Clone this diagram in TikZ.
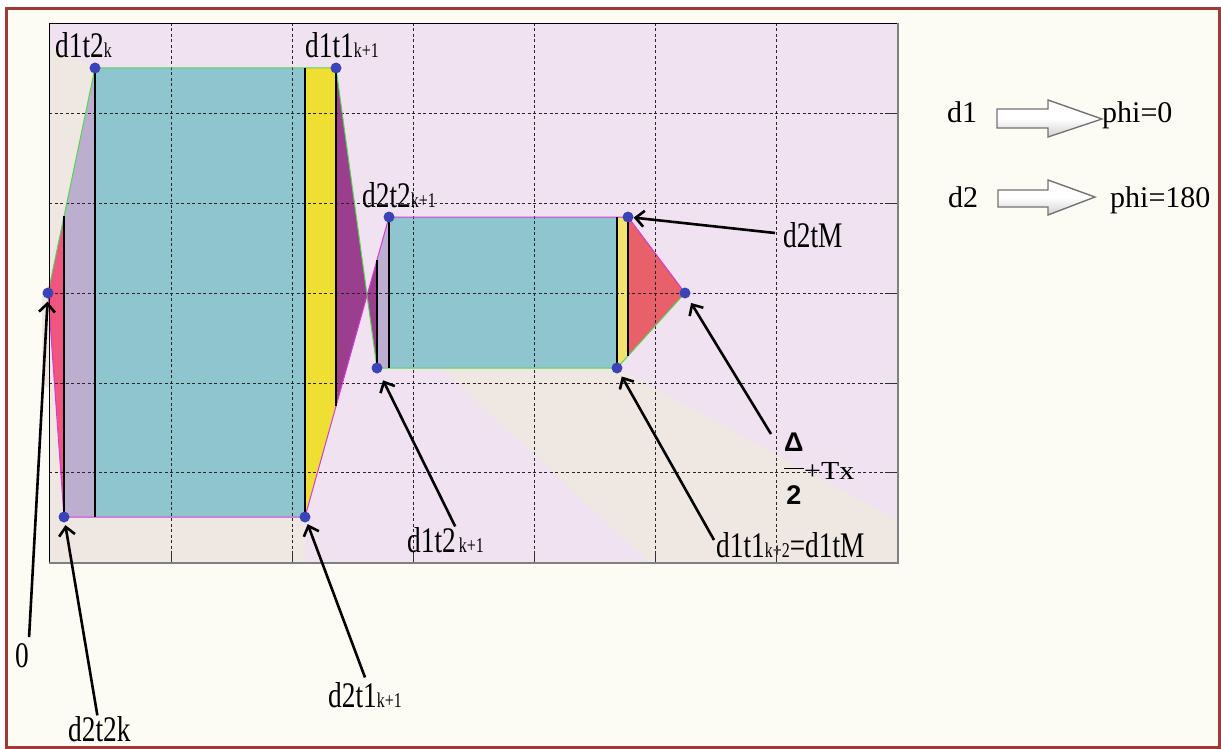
\documentclass[tikz,border=0pt]{standalone}
\usepackage{fontspec}
\setmainfont{Liberation Serif}
\newfontfamily\lblfont[FakeStretch=0.76]{Liberation Serif}
\newfontfamily\widefont[FakeStretch=1.15]{Liberation Serif}
\newfontfamily\sansb{Liberation Sans}
\usetikzlibrary{arrows.meta}
\definecolor{paper}{HTML}{FCFBF4}
\definecolor{plotbg}{HTML}{F0E2F1}
\definecolor{beige}{HTML}{EFE8E2}
\definecolor{tealc}{HTML}{8FC5CF}
\definecolor{lav}{HTML}{BCAECF}
\definecolor{pinkred}{HTML}{EF557F}
\definecolor{yel}{HTML}{EEDF32}
\definecolor{yeltwo}{HTML}{F2E26E}
\definecolor{purp}{HTML}{9A3E8D}
\definecolor{redtri}{HTML}{E8606A}
\definecolor{dotblue}{HTML}{3B44B6}
\definecolor{donegreen}{HTML}{55D455}
\definecolor{dtwomag}{HTML}{D23DD2}
\definecolor{framered}{HTML}{9E3B37}
\newcommand\lowsub[1]{{\fontsize{21}{21}\selectfont #1}}
\tikzset{
  lbl/.style={inner sep=0pt, anchor=base west, font=\lblfont\fontsize{36}{36}\selectfont},
  leg/.style={inner sep=0pt, anchor=base west, font=\fontsize{30}{30}\selectfont},
  dot/.style={circle, fill=dotblue, inner sep=0pt, minimum size=11pt},
  pointer/.style={line width=2.6pt, -{Straight Barb[length=8.5pt,width=16pt,line width=2.6pt]}},
  doneline/.style={line width=1pt, donegreen},
  dtwoline/.style={line width=1pt, dtwomag},
  sepline/.style={line width=2.8pt, black},
  gridline/.style={dash pattern=on 3pt off 2.5pt, line width=0.7pt, black!85},
  legarrow/.style={draw=black!55, line width=1.4pt, top color=white, bottom color=black!18, middle color=white}
}
\begin{document}
\begin{tikzpicture}[x=1pt,y=-1pt]
\useasboundingbox (0,0) rectangle (1221,749);
\fill[white] (0,0) rectangle (1221,749);
\fill[paper] (6,8) rectangle (1220,748);
% plot background
\fill[plotbg] (49,23) rectangle (898,563);
\fill[beige] (49,45) -- (95,68) -- (305,517) -- (305,563) -- (49,563) -- cycle;
\fill[beige] (441,368) -- (617,368) -- (898,520) -- (898,563) -- (650,563) -- cycle;
\fill[beige] (42,290) rectangle (49,387);
% key points
\coordinate (P0) at (48,293);
\coordinate (A) at (95,68);
\coordinate (B) at (336,68);
\coordinate (C) at (377,368);
\coordinate (D) at (617,368);
\coordinate (E) at (685,293);
\coordinate (F) at (64,517);
\coordinate (G) at (305,517);
\coordinate (H) at (389,217);
\coordinate (I) at (628,217);
\coordinate (F1) at (64,216.4);
\coordinate (B1) at (336,406.3);
\coordinate (X) at (367.1,295.6);
\coordinate (C1) at (377,259.9);
\coordinate (D1) at (628,356);
% fills
\fill[pinkred] (P0) -- (F1) -- (F) -- cycle;
\fill[lav] (F1) -- (A) -- (95,517) -- (F) -- cycle;
\fill[tealc] (A) rectangle (G);
\fill[yel] (305,68) -- (B) -- (B1) -- (G) -- cycle;
\fill[purp] (B) -- (B1) -- (X) -- cycle;
\fill[purp] (X) -- (C1) -- (C) -- cycle;
\fill[lav] (C1) -- (H) -- (389,368) -- (C) -- cycle;
\fill[tealc] (H) rectangle (D);
\fill[yeltwo] (617,217) -- (I) -- (D1) -- (D) -- cycle;
\fill[redtri] (I) -- (E) -- (D1) -- cycle;
% grid
\foreach \x in {171,292,413,534,655,776} \draw[gridline] (\x,23) -- (\x,563);
\foreach \y in {113,203,293,383,472} \draw[gridline] (49,\y) -- (898,\y);
\foreach \y in {113,203,293,383,472} \draw[line width=0.8pt, black!80] (887,\y) -- (898,\y);
\foreach \x in {171,292,413,534,655,776} \draw[line width=0.8pt, black!80] (\x,552) -- (\x,563);
% waveforms
\draw[doneline] (P0) -- (A) -- (B) -- (C) -- (D) -- (E);
\draw[dtwoline] (P0) -- (F) -- (G) -- (H) -- (I) -- (E);
% separators
\draw[sepline] (F1) -- (F);
\draw[sepline] (A) -- (95,517);
\draw[sepline] (305,68) -- (G);
\draw[sepline] (B) -- (B1);
\draw[sepline] (C1) -- (C);
\draw[sepline] (H) -- (389,368);
\draw[sepline] (617,217) -- (D);
\draw[sepline] (I) -- (D1);
% plot frame
\draw[black, line width=0.8pt] (49,563) -- (49,23) -- (898,23);
\draw[black!50, line width=1.6pt] (49,563) -- (898,563) -- (898,23);
% dots
\node[dot] (p0) at (P0) {};
\node[dot] (pa) at (A) {};
\node[dot] (pb) at (B) {};
\node[dot] (pc) at (C) {};
\node[dot] (pd) at (D) {};
\node[dot] (pe) at (E) {};
\node[dot] (pf) at (F) {};
\node[dot] (pg) at (G) {};
\node[dot] (ph) at (H) {};
\node[dot] (pi) at (I) {};
% labels
\node[lbl] (l1) at (55,58) {d1t2\lowsub{k}};
\node[lbl] (l2) at (305,58) {d1t1\lowsub{k+1}};
\node[lbl] (l3) at (362,207) {d2t2\lowsub{k+1}};
\node[lbl] (l4) at (783,247) {d2tM};
\node[lbl] (l5) at (407,552) {d1t2\hspace{3pt}\lowsub{k+1}};
\node[lbl] (l6) at (716,557) {d1t1\lowsub{k+2}=d1tM};
\node[lbl] (l7) at (328,707) {d2t1\lowsub{k+1}};
\node[lbl] (l8) at (68,741.5) {d2t2k};
\node[lbl] (l9) at (15,667) {0};
\node[inner sep=0pt, anchor=north west, font=\sansb\bfseries\fontsize{27}{27}\selectfont] (frac) at (784,432)
  {\setlength\arrayrulewidth{1.3pt}\begin{tabular}{@{}c@{}}Δ\rule[-17pt]{0pt}{1pt}\\\hline\rule{0pt}{35pt}2\end{tabular}};
\node[inner sep=0pt, anchor=base west, font=\widefont\fontsize{26}{26}\selectfont] (tx) at (804,479) {+Tx};
% pointers
\draw[pointer, shorten >=3pt] ([shift={(0pt,5.7pt)}]l9.north east) -- (p0);
\draw[pointer, shorten >=2.5pt] ([shift={(-2pt,1pt)}]l8.north) -- (pf);
\draw[pointer, shorten >=2pt] ([shift={(0pt,4.4pt)}]l7.north) -- (pg);
\draw[pointer, shorten >=8pt] ([shift={(9.7pt,0.4pt)}]l5.north) -- (pc);
\draw[pointer, shorten >=4pt] ([shift={(-2pt,4.7pt)}]l6.west) -- (pd);
\draw[pointer, shorten >=6pt] ([shift={(-13pt,-2pt)}]frac.north west) -- (pe);
\draw[pointer, shorten >=0pt] ([shift={(-8pt,1.7pt)}]l4.west) -- (pi);
% legend
\node[leg] (dl1) at (947,123) {d1};
\node[leg] (phz) at (1102,123) {phi=0};
\node[leg] (dl2) at (948,207) {d2};
\node[leg] (phs) at (1110,207) {phi=180};
\draw[legarrow] (997,109) -- (1048,109) -- (1048,100) -- (1102,119) -- (1048,137) -- (1048,128) -- (997,128) -- cycle;
\draw[legarrow] (998,190) -- (1048,190) -- (1048,180) -- (1095,197) -- (1048,215) -- (1048,207) -- (998,207) -- cycle;
% outer frame
\draw[framered, line width=3.5pt] (6.5,8.5) rectangle (1220,748);
\end{tikzpicture}
\end{document}
